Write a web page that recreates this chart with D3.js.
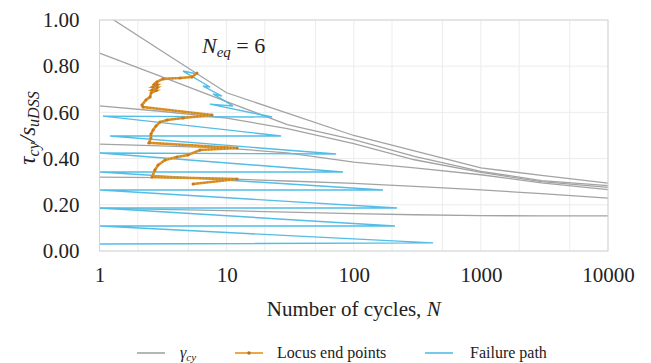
<!DOCTYPE html>
<html>
<head>
<meta charset="utf-8">
<script src="https://cdn.jsdelivr.net/npm/d3@7"></script>
<style>
    body { margin: 0; background: #fff; }
    svg text { font-family: "Liberation Serif", "Times New Roman", serif; fill: #222; }
</style>
</head>
<body>
<div id="chart"></div>
<script>

// --- data ---
const xTicks = [1, 10, 100, 1000, 10000];
const xMinorGrid = [2, 5, 20, 50, 200, 500, 2000, 5000];
const yTicks = [0, 0.2, 0.4, 0.6, 0.8, 1.0];

// gamma_cy contours, all sampled at the same N
const cyN = [1, 3, 10, 30, 100, 300, 1000, 3000, 10000];
const cyA = [1.04, 0.870, 0.685, 0.597, 0.500, 0.433, 0.360, 0.327, 0.294];
const cyB = [0.857, 0.757, 0.647, 0.547, 0.482, 0.410, 0.345, 0.305, 0.283];
const cyC = [0.628, 0.605, 0.575, 0.530, 0.465, 0.395, 0.340, 0.300, 0.275];
const cyD = [0.463, 0.455, 0.445, 0.425, 0.385, 0.360, 0.330, 0.295, 0.266];
const cyE = [0.320, 0.318, 0.312, 0.303, 0.293, 0.280, 0.265, 0.248, 0.229];
const cyF = [0.185, 0.180, 0.175, 0.168, 0.162, 0.157, 0.153, 0.152, 0.152];

// locus end points
const locusN = [5.85, 5.34, 4.30, 3.16, 2.83, 2.70, 2.85, 2.62, 2.85, 2.60, 2.80, 2.55, 2.50, 2.32, 2.16, 2.20,
                7.68, 4.54, 3.40, 2.99, 2.78, 2.64, 2.54, 2.54, 2.45,
                12.1, 6.18, 4.97, 4.07, 3.28, 2.89, 2.73, 2.59,
                12.1, 5.44];
const locusV = [0.771, 0.753, 0.749, 0.745, 0.732, 0.722, 0.720, 0.710, 0.708, 0.697, 0.695, 0.685, 0.667, 0.654, 0.632, 0.623,
                0.589, 0.576, 0.567, 0.558, 0.541, 0.524, 0.506, 0.489, 0.468,
                0.446, 0.437, 0.416, 0.407, 0.394, 0.372, 0.351, 0.320,
                0.312, 0.290];

// failure path (zig-zag)
const failN = [5.9, 4.54, 7.40, 6.52, 9.20, 7.82, 11.2, 7.40, 22.8, 1.065, 26.8, 1.21, 72.6, 1.01,
               82.4, 1.01, 170, 1.01, 219, 1.01, 211, 1.01, 421, 1.01];
const failV = [0.766, 0.779, 0.710, 0.714, 0.671, 0.680, 0.628, 0.636, 0.580, 0.584, 0.498, 0.498, 0.420, 0.424,
               0.342, 0.342, 0.264, 0.264, 0.186, 0.186, 0.108, 0.108, 0.035, 0.030];

const colGray = "#a3a3a3";
const colOrange = "#e8921f";
const colBlue = "#52bde6";

// --- layout ---
const W = 651, H = 363;
const margin = {top: 20, right: 43, bottom: 112, left: 99.5};
const width = W - margin.left - margin.right;
const height = H - margin.top - margin.bottom;

const svg = d3.select("#chart").append("svg")
    .attr("width", W)
    .attr("height", H);

const g = svg.append("g")
    .attr("transform", "translate(" + margin.left + "," + margin.top + ")");

const x = d3.scaleLog().domain([1, 10000]).range([0, width]);
const y = d3.scaleLinear().domain([0, 1]).range([height, 0]);

// gridlines
g.selectAll(".vgrid")
    .data(xMinorGrid.concat(xTicks))
    .enter().append("line")
    .attr("x1", d => x(d)).attr("x2", d => x(d))
    .attr("y1", 0).attr("y2", height)
    .attr("stroke", "#ececec").attr("stroke-width", 1);

g.selectAll(".hgrid")
    .data(yTicks)
    .enter().append("line")
    .attr("x1", 0).attr("x2", width)
    .attr("y1", d => y(d)).attr("y2", d => y(d))
    .attr("stroke", "#ececec").attr("stroke-width", 1);

g.append("defs").append("clipPath").attr("id", "clip")
    .append("rect").attr("width", width).attr("height", height);

const plot = g.append("g").attr("clip-path", "url(#clip)");

const line = d3.line()
    .x(d => x(d[0]))
    .y(d => y(d[1]));

// gamma_cy curves
[cyA, cyB, cyC, cyD, cyE, cyF].forEach(vals => {
    plot.append("path")
        .datum(cyN.map((n, i) => [n, vals[i]]))
        .attr("d", line)
        .attr("fill", "none")
        .attr("stroke", colGray)
        .attr("stroke-width", 1.3);
});

// failure path
plot.append("path")
    .datum(failN.map((n, i) => [n, failV[i]]))
    .attr("d", line)
    .attr("fill", "none")
    .attr("stroke", colBlue)
    .attr("stroke-width", 1.4)
    .attr("stroke-linejoin", "miter");

// locus end points
const locus = locusN.map((n, i) => [n, locusV[i]]);
plot.append("path")
    .datum(locus)
    .attr("d", line)
    .attr("fill", "none")
    .attr("stroke", colOrange)
    .attr("stroke-width", 2.6);

// dotted marker look along the locus
plot.append("path")
    .datum(locus)
    .attr("d", line)
    .attr("fill", "none")
    .attr("stroke", "#9a8a4a")
    .attr("stroke-width", 1.6)
    .attr("stroke-dasharray", "1,2.2");

plot.selectAll(".locusDot")
    .data(locus)
    .enter().append("circle")
    .attr("cx", d => x(d[0]))
    .attr("cy", d => y(d[1]))
    .attr("r", 1.5)
    .attr("fill", "#c9791a");

// plot border
g.append("rect")
    .attr("width", width).attr("height", height)
    .attr("fill", "none")
    .attr("stroke", "#d4d4d4")
    .attr("stroke-width", 1);

// axes (text only)
const xAxis = d3.axisBottom(x).tickValues(xTicks).tickFormat(d3.format("d")).tickSize(0).tickPadding(16);
const yAxis = d3.axisLeft(y).tickValues(yTicks).tickFormat(d3.format(".2f")).tickSize(0).tickPadding(20);

g.append("g")
    .attr("transform", "translate(0," + height + ")")
    .call(xAxis)
    .call(a => a.select(".domain").remove())
    .selectAll("text")
    .style("font-size", "21px")
    .style("font-family", "Liberation Serif")
    .attr("fill", "#222");

g.append("g")
    .call(yAxis)
    .call(a => a.select(".domain").remove())
    .selectAll("text")
    .style("font-size", "21px")
    .style("font-family", "Liberation Serif")
    .attr("fill", "#222");

// x title
const xt = svg.append("text")
    .attr("x", margin.left + width / 2)
    .attr("y", 316)
    .attr("text-anchor", "middle")
    .style("font-size", "21px");
xt.append("tspan").text("Number of cycles, ");
xt.append("tspan").style("font-style", "italic").text("N");

// y title
const yt = svg.append("text")
    .attr("transform", "translate(35,128) rotate(-90)")
    .attr("text-anchor", "middle")
    .style("font-size", "23px")
    .style("font-style", "italic");
yt.append("tspan").text("τ");
yt.append("tspan").attr("baseline-shift", "-25%").style("font-size", "16px").text("cy");
yt.append("tspan").text("/s");
yt.append("tspan").attr("baseline-shift", "-25%").style("font-size", "16px").text("uDSS");

// N_eq = 6
const ann = g.append("text")
    .attr("x", x(6.4))
    .attr("y", 33)
    .style("font-size", "22px");
ann.append("tspan").style("font-style", "italic").text("N");
ann.append("tspan").attr("baseline-shift", "-25%").style("font-size", "15px").style("font-style", "italic").text("eq");
ann.append("tspan").text(" = 6");

// legend
const legend = svg.append("g").attr("transform", "translate(0,353)");
const legItems = [
    {x: 137, color: colGray, marker: false},
    {x: 235, color: colOrange, marker: true},
    {x: 425, color: colBlue, marker: false}
];
legItems.forEach(d => {
    legend.append("line")
        .attr("x1", d.x).attr("x2", d.x + 28)
        .attr("y1", 0).attr("y2", 0)
        .attr("stroke", d.color).attr("stroke-width", 1.6);
    if (d.marker) {
        legend.append("circle").attr("cx", d.x + 14).attr("cy", 0).attr("r", 1.8).attr("fill", "#b27420");
    }
});

const l1 = legend.append("text").attr("x", 180).attr("y", 5).style("font-size", "16px").style("font-style", "italic");
l1.append("tspan").text("γ");
l1.append("tspan").attr("baseline-shift", "-25%").style("font-size", "11px").text("cy");
legend.append("text").attr("x", 277).attr("y", 5).style("font-size", "16px").text("Locus end points");
legend.append("text").attr("x", 470).attr("y", 5).style("font-size", "16px").text("Failure path");

</script>
</body>
</html>
